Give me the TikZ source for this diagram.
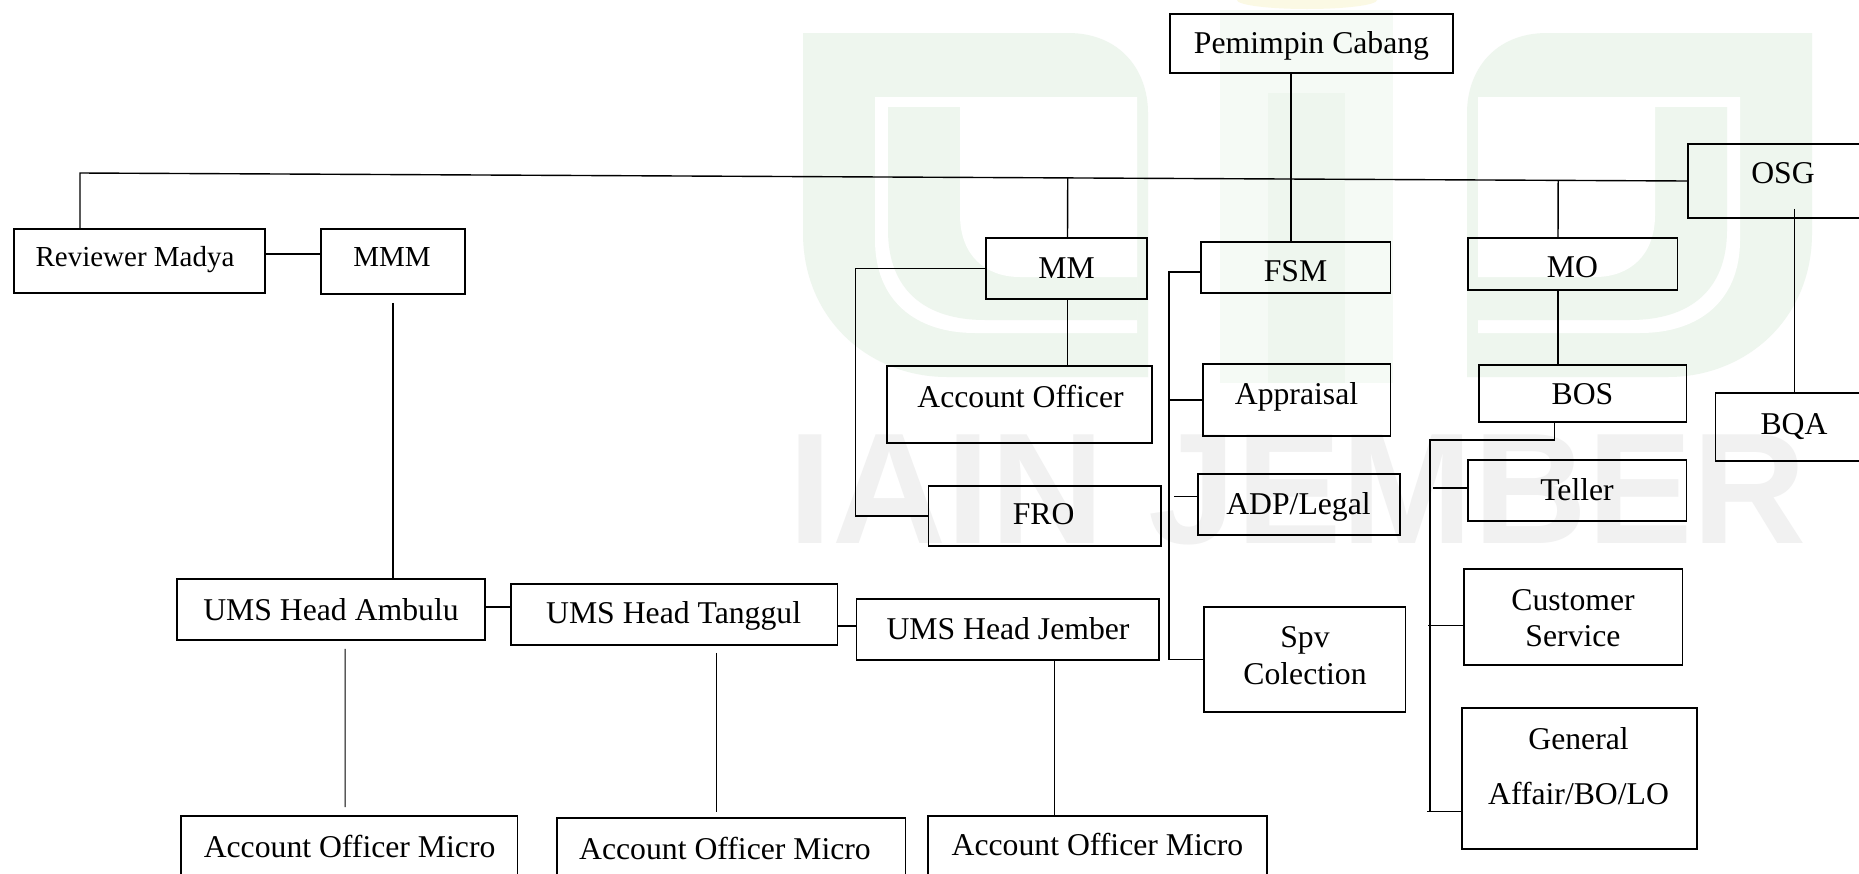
\documentclass[tikz,border=0pt]{standalone}
\usepackage{fontspec}
\setmainfont{Liberation Serif}
\newfontfamily\wmfont{Liberation Sans}
\usetikzlibrary{calc}
\definecolor{wmgreen}{RGB}{238,246,238}
\definecolor{wmgreenb}{RGB}{245,250,245}
\definecolor{wmgray}{RGB}{241,241,241}
\definecolor{wmyellow}{RGB}{251,249,228}
\newcommand\orgbox[5]{\node[box, minimum width={#4-#2}, minimum height={#5-#3}] (#1) at ({(#2+#4)/2},{(#3+#5)/2}) {};}
\begin{document}
\begin{tikzpicture}[x=1pt,y=-1pt,
  box/.style={draw=black, line width=1.8pt, rectangle, inner sep=0pt},
  lbl/.style={inner sep=0pt, text height=20.9pt, text depth=0pt, font=\fontsize{31.7}{38}\selectfont},
  lbls/.style={inner sep=0pt, text height=19.1pt, text depth=0pt, font=\fontsize{29}{35}\selectfont},
  lbltwo/.style={inner sep=0pt, align=center},
  conn/.style={line width=1.4pt},
  thinconn/.style={line width=1.0pt}]
\useasboundingbox (0,0) rectangle (1859,873);
\clip (0,0) rectangle (1859,873);
\fill[white] (0,0) rectangle (1859,873);

% ---- watermark ----
\fill[wmyellow] (1307,0) ellipse (70 and 9);
\fill[wmgreenb] (1220,10) rectangle (1393,383);
\fill[wmgreen] (1268,93) rectangle (1345,383);
\foreach \mir in {0,1}{
\begin{scope}[xshift=\mir*2615pt, xscale={1-2*\mir}]
\fill[wmgreen] (803,33) -- (1068,33) .. controls (1120,33) and (1148,70) .. (1148,113)
   -- (1148,377) -- (947,377) .. controls (870,377) and (803,320) .. (803,233) -- cycle;
\fill[white] (875,97) -- (1090,97) .. controls (1120,97) and (1137,115) .. (1137,140)
   -- (1137,333) -- (975,333) .. controls (915,333) and (875,300) .. (875,240) -- cycle;
\fill[wmgreen] (888,107) -- (1137,107) -- (1137,320) -- (985,320)
   .. controls (925,320) and (888,290) .. (888,230) -- cycle;
\fill[white] (960,97) -- (1137,97) -- (1137,277) -- (1020,277)
   .. controls (985,277) and (960,255) .. (960,215) -- cycle;
\end{scope}}
\node[font=\wmfont\bfseries\fontsize{158}{160}\selectfont, text=wmgray, anchor=base, inner sep=0pt] (wm) at (1298,543) {IAIN JEMBER};

% ---- boxes ----
\orgbox{pc}{1170}{14}{1453}{73}
\orgbox{osg}{1688}{144}{1874}{218}
\orgbox{rm}{14}{229}{265}{293}
\orgbox{mmm}{321}{229}{465}{294}
\orgbox{mm}{986}{238}{1147}{299}
\orgbox{fsm}{1201}{242}{1390.5}{293}
\orgbox{mo}{1468}{238}{1677.5}{290}
\orgbox{ao}{887}{366}{1152}{443}
\orgbox{appr}{1203}{364}{1390.5}{436}
\orgbox{bos}{1478.7}{364.7}{1686.5}{421.7}
\orgbox{bqa}{1715.5}{393}{1874}{460.7}
\orgbox{fro}{928.5}{486}{1161}{546}
\orgbox{adp}{1198}{474}{1400}{535}
\orgbox{tel}{1468}{460}{1686.5}{520.7}
\orgbox{uma}{176.6}{579}{485}{640}
\orgbox{umt}{510.8}{583.7}{837.5}{645.3}
\orgbox{umj}{856.5}{599}{1159}{660}
\orgbox{spv}{1204}{607}{1405.5}{711.7}
\orgbox{cs}{1463.6}{569}{1682.5}{665}
\orgbox{ga}{1462}{707.7}{1696.8}{849}
\orgbox{aoma}{180.8}{816}{517.4}{880}
\orgbox{aomb}{557}{818}{905.5}{880}
\orgbox{aomc}{928}{815.7}{1267}{880}

% ---- texts ----
\node[lbl] (pc-t) at (1311.5,43.3) {Pemimpin Cabang};
\node[lbl] (osg-t) at (1783,173) {OSG};
\node[lbls] (rm-t) at (135,256.7) {Reviewer Madya};
\node[lbls] (mmm-t) at (392,256.7) {MMM};
\node[lbl] (mm-t) at (1066.5,268.3) {MM};
\node[lbl] (fsm-t) at (1295.5,270.7) {FSM};
\node[lbl] (mo-t) at (1572.5,267.3) {MO};
\node[lbl] (ao-t) at (1020.5,396.7) {Account Officer};
\node[lbl] (appr-t) at (1296.5,394.3) {Appraisal};
\node[lbl] (bos-t) at (1582.5,394.3) {BOS};
\node[lbl] (bqa-t) at (1794,424) {BQA};
\node[lbl] (fro-t) at (1043.6,514.3) {FRO};
\node[lbl] (adp-t) at (1298.5,504) {ADP/Legal};
\node[lbl] (tel-t) at (1577,490) {Teller};
\node[lbl] (uma-t) at (331,610) {UMS Head Ambulu};
\node[lbl] (umt-t) at (673.6,613.3) {UMS Head Tanggul};
\node[lbl] (umj-t) at (1008,629.3) {UMS Head Jember};
\node[lbltwo, font=\fontsize{31.7}{37.9}\selectfont] (spv-t) at (1305,655.6) {Spv\\Colection};
\node[lbltwo, font=\fontsize{31.7}{36}\selectfont] (cs-t) at (1573,618) {Customer\\Service};
\node[lbltwo, font=\fontsize{31.7}{55}\selectfont] (ga-t) at (1578.5,765.8) {General\\Affair/BO/LO};
\node[lbl] (aoma-t) at (349.6,846.7) {Account Officer Micro};
\node[lbl] (aomb-t) at (725,849) {Account Officer Micro};
\node[lbl] (aomc-t) at (1097.5,845) {Account Officer Micro};

% ---- connectors ----
\coordinate (lt) at (80,173);
\draw[conn] (rm.north -| lt) -- (lt) -- (osg.west);
\coordinate (mmtop) at ([xshift=1pt]mm.north);
\coordinate (jmm) at ($(lt)!(mmtop)!(osg.west)$);
\draw[conn] (jmm) -- (mmtop);
\coordinate (motop) at ([xshift=-14.75pt]mo.north);
\coordinate (jmo) at ($(lt)!(motop)!(osg.west)$);
\draw[conn] (jmo) -- (motop);
\draw[conn] (motop |- mo.south) -- (motop |- bos.north);
\draw[conn] ([xshift=-20.5pt]pc.south) -- ([xshift=-4.75pt]fsm.north);
\draw[conn] ([yshift=10pt]osg.south -| bqa.north) -- (bqa.north);
\draw[conn] (mmtop |- mm.south) -- (mmtop |- ao.north);
\draw[conn] (mm.west) -- ([xshift=-129.6pt]mm.west) |- (fro.west);
\draw[conn] ([yshift=-4.5pt]fsm.west) -- ++(-31.2,0) coordinate (fsmx) |- (spv.west);
\draw[conn] (appr.west) -- (appr.west -| fsmx);
\draw[conn] ([yshift=7.8pt]adp.west) -- ++(-23,0);
\coordinate (gaj) at ([yshift=-33.35pt]ga.west);
\draw[conn] ([xshift=-28pt]bos.south) -- ++(0,17.3) -| ([xshift=-31pt]gaj);
\draw[conn] (gaj) -- ++(-34.4,0);
\draw[conn] ([yshift=2.35pt]tel.west) -- ++(-34,0);
\draw[conn] ([yshift=-8.7pt]cs.west) -- ++(-34.6,0);
\draw[conn] ([yshift=7pt]rm.east) -- ([yshift=7pt]rm.east -| mmm.west);
\draw[conn] ([yshift=-8pt]mmm.south) -- (mmm.south |- uma.north);
\draw[conn] ([yshift=2.5pt]uma.east) -- ([yshift=2.5pt]uma.east -| umt.west);
\draw[conn] ([yshift=-11.5pt]umt.east) -- ([yshift=-11.5pt]umt.east -| umj.west);
\draw[thinconn] ($(uma.south)+(14.2,8)$) -- ($(aoma.north)+(-4.1,-8)$);
\draw[thinconn] ($(umt.south)+(42.25,6.7)$) -- ($(aomb.north)+(-14.85,-5.3)$);
\draw[conn] ([xshift=46.95pt]umj.south) -- ([xshift=-42.8pt]aomc.north);
\end{tikzpicture}
\end{document}
